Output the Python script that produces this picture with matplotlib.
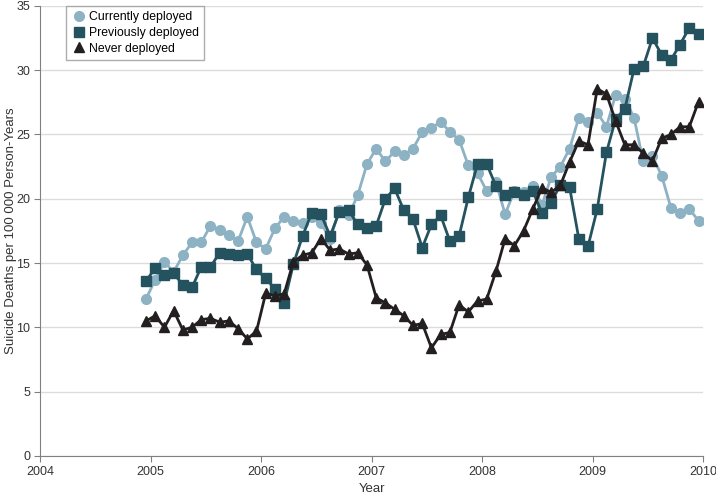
import numpy as np
import matplotlib
matplotlib.use("Agg")
import matplotlib.pyplot as plt
from matplotlib.lines import Line2D

# monthly rates, Jan 2005 .. Jan 2010
currently = [12.2, 13.7, 15.1, 14.3, 15.6, 16.6, 16.6, 17.9, 17.6, 17.2, 16.7, 18.6,
             16.6, 16.1, 17.7, 18.6, 18.3, 18.1, 18.6, 18.1, 16.9, 19.1, 18.7, 20.3,
             22.7, 23.9, 22.9, 23.7, 23.4, 23.9, 25.2, 25.5, 26.0, 25.2, 24.6, 22.6,
             22.0, 20.6, 21.3, 18.8, 20.6, 20.5, 21.0, 19.5, 21.7, 22.5, 23.9, 26.3,
             26.0, 26.7, 25.6, 28.1, 27.8, 26.3, 22.9, 23.3, 21.8, 19.3, 18.9, 19.2, 18.3]
previously = [13.6, 14.6, 14.1, 14.2, 13.3, 13.1, 14.7, 14.7, 15.8, 15.7, 15.6, 15.7,
              14.5, 13.8, 13.0, 11.9, 14.9, 17.1, 18.9, 18.8, 17.1, 19.0, 19.1, 18.0,
              17.7, 17.9, 20.0, 20.8, 19.1, 18.4, 16.2, 18.0, 18.7, 16.7, 17.1, 20.1,
              22.7, 22.7, 21.0, 20.3, 20.5, 20.3, 20.6, 18.9, 19.7, 21.1, 20.9, 16.9,
              16.3, 19.2, 23.6, 26.2, 27.0, 30.1, 30.3, 32.5, 31.2, 30.8, 32.0, 33.3, 32.8]
never = [10.5, 10.9, 10.0, 11.3, 9.8, 10.0, 10.6, 10.7, 10.4, 10.5, 9.9, 9.1,
         9.7, 12.65, 12.45, 12.6, 15.1, 15.6, 15.8, 16.9, 16.0, 16.1, 15.7, 15.8,
         14.85, 12.3, 11.9, 11.4, 10.9, 10.15, 10.3, 8.4, 9.45, 9.6, 11.75, 11.2,
         12.05, 12.2, 14.35, 16.9, 16.35, 17.5, 19.2, 20.85, 20.5, 21.05, 22.85, 24.5,
         24.2, 28.55, 28.15, 26.05, 24.2, 24.2, 23.55, 22.95, 24.7, 25.0, 25.6, 25.6, 27.55]
labels = ["Currently deployed", "Previously deployed", "Never deployed"]
years = [2004, 2005, 2006, 2007, 2008, 2009, 2010]

x = 2005 + (np.arange(len(currently)) - 0.5) / 12

plt.rcParams['font.family'] = ['Liberation Sans', 'DejaVu Sans']

fig = plt.figure(figsize=(7.16, 4.95), dpi=100)
ax = fig.add_axes([0.056, 0.079, 0.926, 0.909])

c1 = '#8db2c3'
c2 = '#24535f'
c3 = '#231f20'
ax.plot(x, currently, color=c1, lw=2, marker='o', ms=7, zorder=3)
ax.plot(x, previously, color=c2, lw=2, marker='s', ms=6.5, zorder=4)
ax.plot(x, never, color=c3, lw=2, marker='^', ms=7.5, zorder=5)

ax.set_xlim(2004, 2010)
ax.set_ylim(0, 35)
ax.set_xticks(years)
ax.set_yticks(range(0, 36, 5))
ax.yaxis.grid(True, color='#dcdcdc', lw=1)
ax.set_axisbelow(True)
for s in ['top', 'right']:
    ax.spines[s].set_visible(False)
for s in ['left', 'bottom']:
    ax.spines[s].set_color('#808080')
ax.tick_params(colors='#808080', labelcolor='#333333', labelsize=9, length=4, pad=3)
ax.set_xlabel("Year", fontsize=9.5, color='#333333', labelpad=4)
ax.set_ylabel("Suicide Deaths per 100 000 Person-Years", fontsize=9.5, color='#333333')
ax.yaxis.set_label_coords(-0.035, 0.5)

handles = [Line2D([], [], ls='none', marker='o', color=c1, ms=7),
           Line2D([], [], ls='none', marker='s', color=c2, ms=6.5),
           Line2D([], [], ls='none', marker='^', color=c3, ms=7.5)]
leg = ax.legend(handles, labels, loc='upper left', bbox_to_anchor=(0.039, 1.0),
                borderaxespad=0, fancybox=False, edgecolor='#999999', fontsize=8.8,
                handletextpad=0.2, handlelength=1.2, labelspacing=0.3, borderpad=0.45)
leg.get_frame().set_linewidth(1)

fig.savefig("out.png", dpi=100)
